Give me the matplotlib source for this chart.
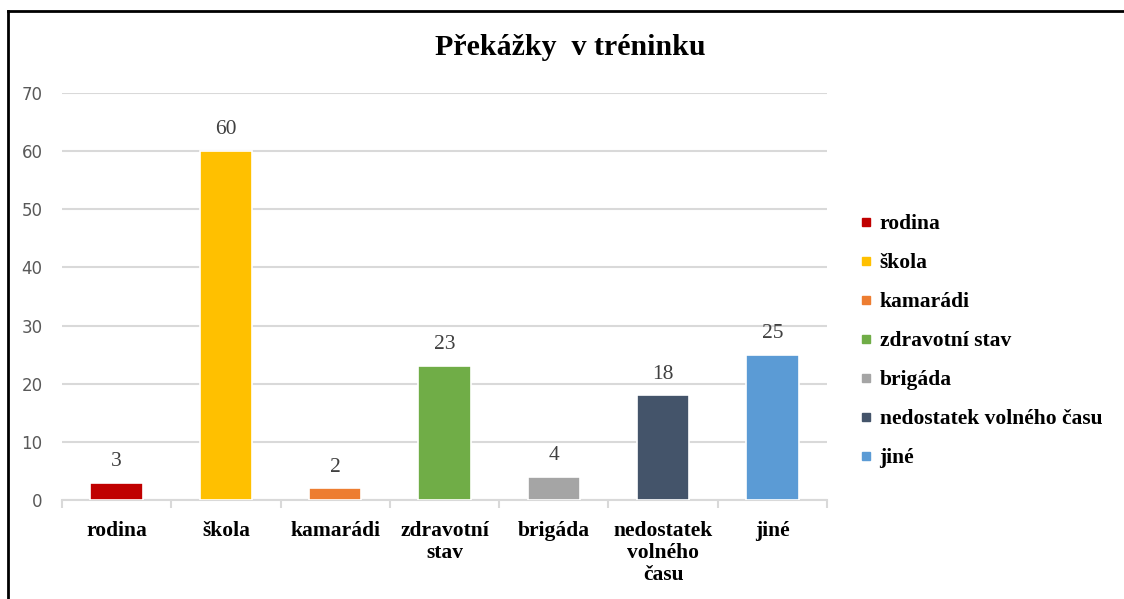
import matplotlib.pyplot as plt
from matplotlib.lines import Line2D
import numpy as np

categories = ["rodina", "škola", "kamarádi", "zdravotní stav", "brigáda",
              "nedostatek volného času", "jiné"]
tick_labels = ["rodina", "škola", "kamarádi", "zdravotní\nstav", "brigáda",
               "nedostatek\nvolného\nčasu", "jiné"]
values = [3, 60, 2, 23, 4, 18, 25]
colors = ["#C00000", "#FFC000", "#ED7D31", "#70AD47", "#A5A5A5", "#44546A", "#5B9BD5"]

serif = "Liberation Serif"

fig = plt.figure(figsize=(11.24, 5.99), dpi=100)
ax = fig.add_axes([0.0552, 0.1653, 0.6806, 0.6794])

x = np.arange(len(values))
bars = ax.bar(x, values, width=0.48, color=colors, edgecolor="white",
              linewidth=1.2, zorder=3)

for b, v in zip(bars, values):
    ax.annotate(str(v), (b.get_x() + b.get_width() / 2, v),
                xytext=(0, 8.5), textcoords="offset points",
                ha="center", va="bottom", fontsize=15.5, family=serif,
                color="#404040")

ax.set_xlim(-0.5, len(values) - 0.5)
ax.set_ylim(0, 70)
ax.set_yticks(range(0, 71, 10))
ax.yaxis.grid(True, color="#d9d9d9", linewidth=1.5, zorder=0)
ax.set_axisbelow(True)
for s in ["top", "right", "left"]:
    ax.spines[s].set_visible(False)
ax.spines["bottom"].set_color("#d9d9d9")
ax.spines["bottom"].set_linewidth(1.5)

ax.tick_params(axis="y", length=0, pad=14, labelsize=12, labelcolor="#595959")
ax.set_xticks(x)
ax.set_xticklabels(tick_labels, family=serif, fontweight="bold", fontsize=15.5,
                   linespacing=1.15)
ax.tick_params(axis="x", which="major", length=0, pad=15)
ax.set_xticks(np.arange(-0.5, len(values), 1.0), minor=True)
ax.tick_params(axis="x", which="minor", length=6, width=1.5, color="#d9d9d9")
for lbl in ax.get_yticklabels():
    lbl.set_family("DejaVu Sans")

fig.text(0.507, 0.921, "Překážky  v tréninku", ha="center", va="center",
         family=serif, fontweight="bold", fontsize=21.5)

handles = [Line2D([], [], marker="s", linestyle="none", markersize=6,
                  markerfacecolor=c, markeredgecolor=c) for c in colors]
fig.legend(handles, categories, loc="upper left", bbox_to_anchor=(0.748, 0.675),
           frameon=False, handlelength=0.5, handletextpad=0.4, labelspacing=0.88,
           prop={"family": serif, "weight": "bold", "size": 15.5})

fig.add_artist(Line2D([8 / 1124, 8 / 1124], [0, 1 - 11 / 599], color="black",
                      linewidth=2, transform=fig.transFigure))
fig.add_artist(Line2D([8 / 1124, 1], [1 - 11 / 599, 1 - 11 / 599], color="black",
                      linewidth=2, transform=fig.transFigure))

fig.savefig("out.png", dpi=100)
